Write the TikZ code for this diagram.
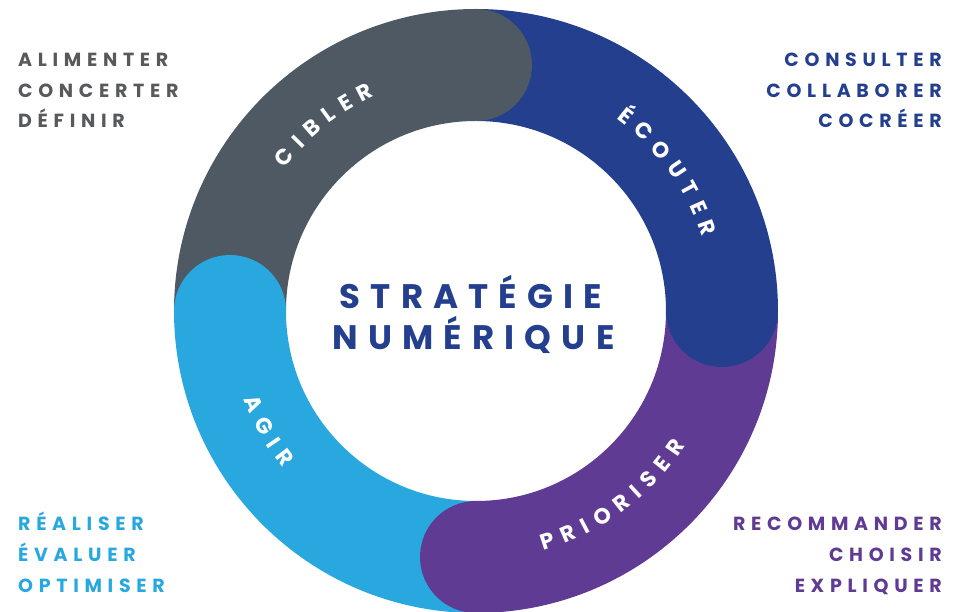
\documentclass[tikz,border=0pt]{standalone}
\usepackage{fontspec}
\setmainfont{Poppins}
\newfontfamily\spacedfont{Poppins}[LetterSpace=30]
\usetikzlibrary{decorations.text}

\definecolor{ciblergray}{HTML}{4E5963}
\definecolor{ecouterblue}{HTML}{243F8E}
\definecolor{prioriserpurple}{HTML}{5F3B93}
\definecolor{agirblue}{HTML}{29A8E0}
\definecolor{textgray}{HTML}{58595B}

\newcommand{\ringlabel}{\color{white}\bfseries\fontsize{22}{22}\selectfont}

\tikzset{
  cornertext/.style={inner sep=0pt, font=\spacedfont\bfseries\fontsize{19}{19}\selectfont},
  centertext/.style={inner sep=0pt, text=ecouterblue, font=\spacedfont\bfseries\fontsize{34}{34}\selectfont},
  ringtext/.style={decorate, decoration={text along path, text align=center}}
}

\begin{document}
\begin{tikzpicture}[x=1pt,y=1pt]
  \useasboundingbox (-476,-301) rectangle (483,311);

  % ring segments
  \foreach \a/\c in {180/ciblergray, 90/ecouterblue, 0/prioriserpurple, -90/agirblue}
    \draw[\c, line width=112pt] (\a:246) arc (\a:\a-90:246);

  % rounded ends
  \foreach \a/\c in {90/ciblergray, 0/ecouterblue, -90/prioriserpurple, -180/agirblue}
    \fill[\c] (\a:246) circle (56);

  % ring labels (one box per letter, kern = letter spacing)
  \path[ringtext, decoration={text={|\ringlabel|{C\kern8.5pt}{I\kern8.5pt}{B\kern8.5pt}{L\kern8.5pt}{E\kern8.5pt}R}}] (169.3:238) arc (169.3:89.3:238);
  \path[ringtext, decoration={text={|\ringlabel|{É\kern8pt}{C\kern8pt}{O\kern8pt}{U\kern8pt}{T\kern8pt}{E\kern8pt}R}}] (76:238) arc (76:-4:238);
  \path[ringtext, decoration={text={|\ringlabel|{A\kern8.5pt}{G\kern8.5pt}{I\kern8.5pt}R}}] (170:249) arc (170:250:249);
  \path[ringtext, decoration={text={|\ringlabel|{P\kern8.5pt}{R\kern8.5pt}{I\kern8.5pt}{O\kern8.5pt}{R\kern8.5pt}{I\kern8.5pt}{S\kern8.5pt}{E\kern8.5pt}R}}] (266.5:249) arc (266.5:346.5:249);

  % center
  \node[centertext, anchor=base] (strategie) at (-5,2) {STRATÉGIE};
  \node[centertext, anchor=base] (numerique) at (-2.5,-39) {NUMÉRIQUE};

  % corner texts
  \foreach \t [count=\i] in {ALIMENTER, CONCERTER, DÉFINIR}
    \node[cornertext, text=textgray, anchor=base west] (cibler\i) at (-458, 244.25-30.5*\i+30.5) {\t};
  \foreach \t [count=\i] in {CONSULTER, COLLABORER, COCRÉER}
    \node[cornertext, text=ecouterblue, anchor=base east] (ecouter\i) at (466, 244.25-30.5*\i+30.5) {\t};
  \foreach \t [count=\i] in {RÉALISER, ÉVALUER, OPTIMISER}
    \node[cornertext, text=agirblue, anchor=base west] (agir\i) at (-458, -219.75-31*\i+31) {\t};
  \foreach \t [count=\i] in {RECOMMANDER, CHOISIR, EXPLIQUER}
    \node[cornertext, text=prioriserpurple, anchor=base east] (prioriser\i) at (466, -219.75-31*\i+31) {\t};
\end{tikzpicture}
\end{document}
